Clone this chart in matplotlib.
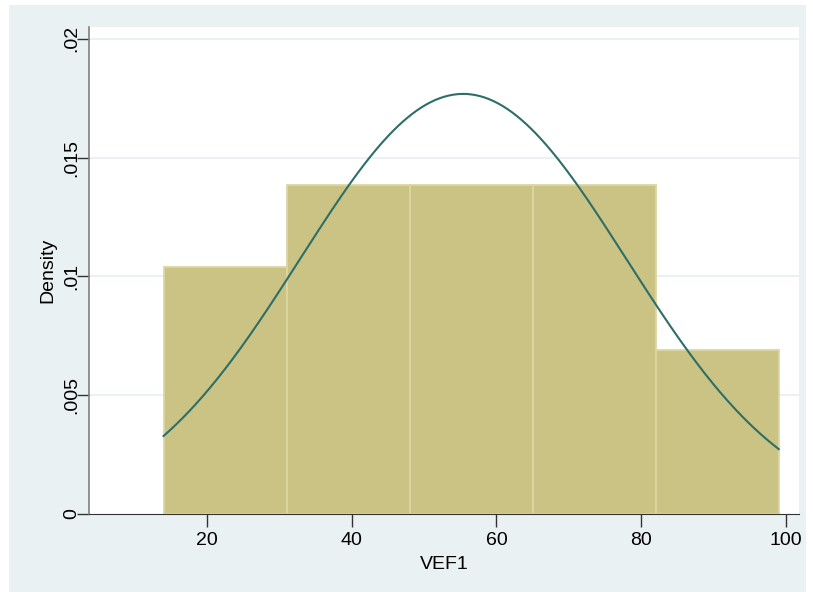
#!/usr/bin/env python3

import numpy as np
import matplotlib
matplotlib.use("Agg")
import matplotlib.pyplot as plt
from matplotlib.patches import Rectangle

# histogram of VEF1 (N = 17, bin width 17)
bin_edges = [14, 31, 48, 65, 82, 99]
bin_counts = [3, 4, 4, 4, 2]
n_obs = 17

# overlaid normal density
norm_mean = 55.4
norm_sd = 22.56

x_ticks = [20, 40, 60, 80, 100]
y_ticks = [0, 0.005, 0.01, 0.015, 0.02]
y_tick_labels = ["0", ".005", ".01", ".015", ".02"]

BG = "#eaf1f3"
BAR = "#cbc383"
BAR_EDGE = "#dcd6a2"
LINE = "#2d6e69"

plt.rcParams["font.family"] = ["Liberation Sans", "DejaVu Sans"]

W, H = 813, 592
fig = plt.figure(figsize=(W / 100, H / 100), dpi=100, facecolor="white")
fig.patches.append(Rectangle((9 / W, 0), (806 - 9) / W, (587) / H,
                             transform=fig.transFigure, facecolor=BG,
                             edgecolor="none", zorder=-10))

left, right, top, bottom = 89, 799, 27, 514
ax = fig.add_axes([left / W, 1 - bottom / H, (right - left) / W,
                   (bottom - top) / H])
ax.set_facecolor("white")

edges = np.array(bin_edges, dtype=float)
widths = np.diff(edges)
density = np.array(bin_counts) / (n_obs * widths)
ax.bar(edges[:-1], density, width=widths, align="edge", color=BAR,
       edgecolor=BAR_EDGE, linewidth=1.3, zorder=2)

xs = np.linspace(edges[0], edges[-1], 400)
ys = np.exp(-0.5 * ((xs - norm_mean) / norm_sd) ** 2) / (
    norm_sd * np.sqrt(2 * np.pi))
ax.plot(xs, ys, color=LINE, linewidth=1.5, zorder=3)

ax.set_xlim(3.7, 101.8)
ax.set_ylim(0, 0.0205)

for y in y_ticks[1:]:
    ax.axhline(y, color=BG, linewidth=1.5, zorder=1)

ax.set_xticks(x_ticks)
ax.set_yticks(y_ticks)
ax.set_yticklabels(y_tick_labels, rotation=90, va="center")
ax.tick_params(axis="both", direction="out", length=9, width=1,
               color="#333333", labelsize=14)
ax.tick_params(axis="x", pad=4)
ax.tick_params(axis="y", pad=-3)

for s in ["top", "right"]:
    ax.spines[s].set_visible(False)
ax.spines["bottom"].set_color("#333333")
ax.spines["left"].set_color("#808080")
ax.spines["left"].set_linewidth(1.2)

ax.set_xlabel("VEF1", fontsize=14, labelpad=5)
ax.set_ylabel("Density", fontsize=14, labelpad=5)

fig.savefig("out.png", dpi=100, facecolor="white")
